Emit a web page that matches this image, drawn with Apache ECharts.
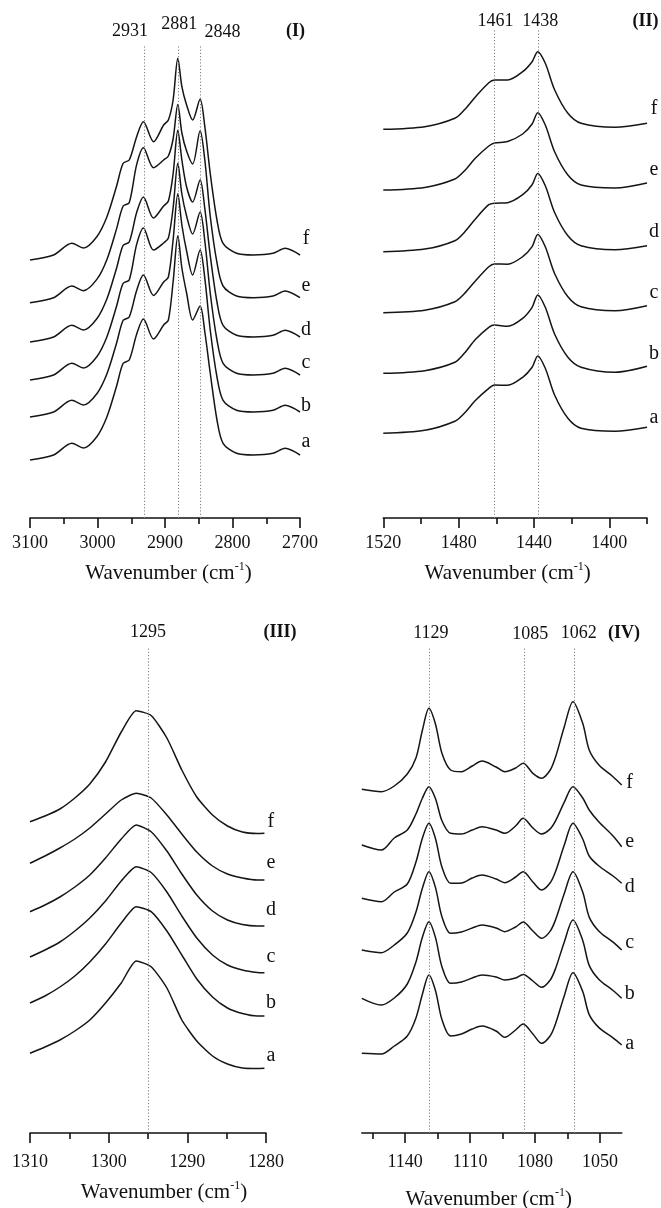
<!DOCTYPE html>
<html><head><meta charset="utf-8">
<script src="https://cdn.jsdelivr.net/npm/echarts@6/dist/echarts.min.js"></script>
<style>html,body{margin:0;padding:0;background:#fff}#c{width:661px;height:1208px}</style>
</head><body><div id="c"></div>
<script>
// ---------- Panel I : 3100-2700 cm-1 ----------
const wnI = [3100, 3065, 3038, 3021, 3001, 2986, 2972, 2962, 2953, 2942, 2932, 2917, 2902, 2895, 2888, 2881, 2875, 2868, 2859, 2848, 2841, 2833, 2823, 2814, 2794, 2769, 2740, 2722, 2700];
const I_a = [58, 63, 74.7, 70, 81.3, 101.3, 131.3, 154.7, 158, 183.8, 199, 179, 193, 198, 236, 282.3, 250, 225, 198, 212, 186, 145, 98, 74.7, 64.7, 63, 64.7, 69.7, 63];
const I_b = [101, 106, 117.7, 113, 124.3, 144.3, 174.3, 197.7, 201, 227.6, 243, 222.5, 236, 241, 278, 324.3, 293, 267, 243, 268, 239.6, 188, 141, 117.7, 107.7, 106, 107.7, 112.7, 106];
const I_c = [138, 143, 154.7, 150, 161.3, 181.3, 211.3, 234.7, 238, 273.6, 290, 268, 275, 280, 310, 354.7, 324, 302, 284, 306, 277, 225, 178, 154.7, 144.7, 143, 144.7, 149.7, 143];
const I_d = [176, 181, 192.7, 188, 199.3, 219.3, 249.3, 272.7, 276, 305.5, 321, 300, 312, 317, 344, 387.7, 358, 331, 316, 338, 309.3, 262.7, 216, 192.7, 182.7, 181, 182.7, 187.7, 181];
const I_e = [215.3, 220.3, 232, 227.3, 238.6, 258.6, 288.6, 312, 315.3, 353.4, 370.3, 350.3, 358, 362, 379, 413.6, 385, 367, 354, 387.3, 358, 302, 255.3, 232, 222, 220.3, 222, 227, 220.3];
const I_f = [258, 263, 274.7, 270, 281.3, 301.3, 331.3, 354.7, 358, 381.3, 396.3, 376.3, 393, 398, 418, 459.7, 431.3, 413, 398, 418.7, 391.3, 344.7, 298, 274.7, 264.7, 263, 264.7, 269.7, 263];
const peaksI = [2931, 2881, 2848];
const ticksI = [3100, 3000, 2900, 2800, 2700];
const minorI = [3050, 2950, 2850, 2750];

// ---------- Panel II : 1520-1380 cm-1 ----------
const wnII = [1520, 1498, 1482, 1477, 1471, 1464, 1461, 1454, 1446, 1441, 1438, 1434, 1429, 1422, 1415, 1397, 1380];
const II_a = [84.7, 87.7, 96.7, 104.7, 117.7, 129.7, 133, 132.7, 140.7, 150.7, 162, 149.7, 122.7, 99.7, 89.7, 86.7, 90.7];
const II_b = [144.7, 147.3, 155.7, 164.7, 178.7, 190.7, 193, 191.7, 199.7, 210.7, 223, 210.7, 183.7, 160.7, 150.7, 145.7, 151.7];
const II_c = [205.3, 207.8, 216.3, 224.3, 237.3, 251.3, 254, 253.8, 261.3, 271.3, 283.6, 271.3, 244.3, 221.3, 211.3, 207.3, 212.3];
const II_d = [266.3, 268.9, 277.3, 285.6, 299.3, 313.3, 314.8, 315.3, 323.3, 333.3, 344.6, 332.3, 305.3, 282.3, 272.3, 268.3, 272.3];
const II_e = [328, 330.6, 339, 347, 360, 372, 375, 376.5, 384, 394, 405.3, 393, 366, 343, 333, 330, 335];
const II_f = [388.7, 391.3, 399.7, 408, 421.3, 435.3, 438, 438, 446.3, 456.3, 466.3, 454.7, 428, 404.7, 394.7, 390.7, 394.7];
const peaksII = [1461, 1438];
const ticksII = [1520, 1480, 1440, 1400];
const minorII = [1500, 1460, 1420, 1380];

// ---------- Panel III : 1310-1280 cm-1 ----------
const wnIII = [1310, 1308.1, 1306.2, 1304.3, 1302.4, 1300.4, 1298.4, 1296.5, 1294.6, 1292.6, 1290.7, 1288.8, 1286.8, 1284.9, 1283.0, 1281.1, 1280.2];
const III_a = [79.7, 86, 93, 102, 113, 130, 150, 172, 166.3, 145, 113, 92, 77, 69, 65, 64.5, 64.7];
const III_b = [130, 137, 146, 157, 171, 189, 210, 226.3, 221.3, 202, 178, 154, 136, 125, 119.5, 117, 117];
const III_c = [176, 183, 191, 202, 215, 232, 252, 266.3, 260.5, 241, 217, 195, 178, 168, 163, 160.5, 160.3];
const III_d = [221.3, 228, 236, 246, 258, 275, 294, 308, 301.3, 282, 259, 238, 222, 213, 208.5, 207, 207];
const III_e = [269.7, 277, 285, 294, 305, 319, 333, 339.7, 335, 318, 299, 281, 267, 259, 255, 253, 253];
const III_f = [311.3, 317, 324, 335, 349, 371, 401, 422.3, 417.5, 395, 363, 336, 318, 307, 301, 299.5, 299.7];
const peaksIII = [1295];
const ticksIII = [1310, 1300, 1290, 1280];
const minorIII = [1305, 1295, 1285];

// ---------- Panel IV : 1160-1040 cm-1 ----------
const wnIV = [1160, 1151, 1145, 1139, 1135, 1132, 1129, 1126, 1123, 1119, 1114, 1109, 1104.5, 1098, 1094, 1089, 1085.5, 1081, 1077, 1073, 1070.5, 1066.5, 1062.5, 1058, 1055, 1050.5, 1044, 1040];
const IV_a = [79.7, 79, 87, 97, 115, 139, 158, 142.5, 113.5, 97, 99, 104, 107, 102, 95.7, 103, 109, 99, 89.7, 97.3, 109.6, 137.3, 160.3, 141.5, 118.4, 105.4, 95.2, 88];
const IV_b = [134.7, 128, 135, 149, 171, 196, 211.3, 195.6, 166.3, 149.7, 151, 155, 158, 156, 153, 155, 158.5, 152, 145.7, 153, 164.7, 191.1, 213, 192.6, 167.6, 153.5, 142.5, 134.7];
const IV_c = [183, 180.3, 188, 200, 221, 245, 261.3, 245.6, 216.3, 199.7, 201, 205, 208, 205, 201.3, 206, 211, 202, 194.7, 201.9, 213.5, 239.6, 261.3, 240.9, 215.9, 201.8, 190.8, 183];
const IV_d = [234.7, 231.3, 241, 249, 271, 295, 309.7, 294.5, 265.9, 249.7, 250, 255, 258, 254, 250.3, 256, 261.3, 251, 243, 250.2, 261.8, 288, 309.7, 294, 277, 267, 257, 249.7];
const IV_e = [288, 283, 295, 303, 319, 335, 346.3, 334.5, 312.3, 299.7, 299, 303, 306.3, 303, 299.7, 307, 314.7, 305, 299, 304.1, 312.3, 330.9, 346.3, 335, 323, 311, 297, 286.3];
const IV_f = [343.7, 341.3, 347, 359, 375, 403, 424.7, 409, 379.7, 363, 361.3, 367, 372, 366, 361.3, 365, 369.7, 359.7, 354.7, 363, 376.3, 406.3, 431.3, 409.7, 383, 368, 356.3, 348];
const peaksIV = [1129, 1085, 1062];
const ticksIV = [1140, 1110, 1080, 1050];
const minorIV = [1155, 1125, 1095, 1065];

const sampleNames = ['a', 'b', 'c', 'd', 'e', 'f'];
const panelTitles = ['(I)', '(II)', '(III)', '(IV)'];

// ---------- layout / style ----------
const FONT = '"Liberation Serif", "Times New Roman", serif';
const INK = '#111';
const panels = [
  { wn: wnI, ys: [I_a, I_b, I_c, I_d, I_e, I_f], min: 2700, max: 3100, ticks: ticksI, minor: minorI, peaks: peaksI,
    grid: { left: 30, top: 45, width: 270, height: 473 }, smooth: 0.3, nameGap: 43, labelMargin: 16, nameShift: 3.5,
    peakDx: [-14, 1.5, 22.5], peakDy: [-14, -21, -13], letterDx: 6, letterDy: [-13, -6, -12, -7, -12, -16], title: [295.5, 31] },
  { wn: wnII, ys: [II_a, II_b, II_c, II_d, II_e, II_f], min: 1380, max: 1520, ticks: ticksII, minor: minorII, peaks: peaksII,
    grid: { left: 383.3, top: 30, width: 263.7, height: 488 }, smooth: 0.3, nameGap: 43, labelMargin: 16, nameShift: -7.5,
    peakDx: [1, 2.5], peakDy: [-9, -9], letterDx: 7, letterDy: [-10, -13, -13, -14, -13, -15], title: [645.5, 21] },
  { wn: wnIII, ys: [III_a, III_b, III_c, III_d, III_e, III_f], min: 1280, max: 1310, ticks: ticksIII, minor: minorIII, peaks: peaksIII,
    grid: { left: 30, top: 647, width: 236, height: 486 }, smooth: 0.2, nameGap: 47, labelMargin: 20, nameShift: 16,
    peakDx: [0], peakDy: [-15], letterDx: 6.5, letterDy: [-13, -13, -16, -16, -17, -12], title: [280, 632] },
  { wn: wnIV, ys: [IV_a, IV_b, IV_c, IV_d, IV_e, IV_f], min: 1040, max: 1160, ticks: ticksIV, minor: minorIV, peaks: peaksIV,
    grid: { left: 361.8, top: 647, width: 259.9, height: 486 }, smooth: 0.3, nameGap: 54, labelMargin: 20, nameShift: -3,
    peakDx: [2, 6, 4.6], peakDy: [-14, -13, -14], letterDx: 8, letterDy: [-1, -5, -7, 3, -5, -2], title: [624, 633] }
];

const grids = [], xAxes = [], yAxes = [], series = [];
panels.forEach((p, i) => {
  grids.push(Object.assign({ outerBoundsMode: 'none', containLabel: false }, p.grid));
  const sh = p.nameShift;
  xAxes.push({
    type: 'value', gridIndex: i, position: 'bottom', inverse: true, min: p.min, max: p.max,
    splitLine: { show: false },
    axisLine: { show: true, onZero: false, lineStyle: { color: INK, width: 1.6 } },
    axisTick: { show: true, inside: false, length: 10, customValues: p.ticks, lineStyle: { color: INK, width: 1.6 } },
    axisLabel: { show: true, customValues: p.ticks, margin: p.labelMargin, color: INK, fontFamily: FONT, fontSize: 18,
                 showMinLabel: true, showMaxLabel: true, formatter: v => String(v) },
    name: '{t|Wavenumber (cm}{s|-1}{t|)}', nameLocation: 'middle', nameGap: p.nameGap, nameMoveOverlap: false,
    nameTextStyle: {
      padding: sh >= 0 ? [0, 0, 0, 2 * sh] : [0, -2 * sh, 0, 0],
      rich: {
        t: { fontFamily: FONT, fontSize: 21, lineHeight: 25, color: INK },
        s: { fontFamily: FONT, fontSize: 12, lineHeight: 12, verticalAlign: 'top', color: INK }
      }
    }
  });
  xAxes.push({
    type: 'value', gridIndex: i, position: 'bottom', inverse: true, min: p.min, max: p.max,
    splitLine: { show: false }, axisLine: { show: false, onZero: false },
    axisTick: { show: true, inside: false, length: 6, customValues: p.minor, lineStyle: { color: INK, width: 1.6 } },
    axisLabel: { show: false }
  });
  yAxes.push({ type: 'value', gridIndex: i, min: 0, max: p.grid.height, show: false, splitLine: { show: false } });
  p.ys.forEach((ys, k) => {
    const s = {
      type: 'line', name: sampleNames[k], xAxisIndex: 2 * i, yAxisIndex: i,
      data: p.wn.map((w, j) => [w, ys[j]]),
      showSymbol: false, symbol: 'none', smooth: p.smooth, silent: true,
      lineStyle: { color: '#151515', width: 1.5 }
    };
    if (k === 0) {
      s.markLine = {
        silent: true, symbol: ['none', 'none'], label: { show: false },
        lineStyle: { type: [1.2, 2], color: '#808080', width: 1 },
        data: p.peaks.map(v => ({ xAxis: v }))
      };
    }
    series.push(s);
  });
});

const chart = echarts.init(document.getElementById('c'));
chart.setOption({
  animation: false, backgroundColor: '#fff',
  grid: grids, xAxis: xAxes, yAxis: yAxes, series: series
});

// text annotations positioned through the axes' own scales
const g = [];
panels.forEach((p, i) => {
  const finder = { xAxisIndex: 2 * i, yAxisIndex: i };
  p.peaks.forEach((v, k) => {
    const pt = chart.convertToPixel(finder, [v, p.grid.height]);
    g.push({ type: 'text', x: pt[0] + p.peakDx[k], y: pt[1] + p.peakDy[k], silent: true,
      style: { text: String(v), fontFamily: FONT, fontSize: 18, fill: INK, align: 'center', verticalAlign: 'middle' } });
  });
  p.ys.forEach((ys, k) => {
    const last = p.wn.length - 1;
    const pt = chart.convertToPixel(finder, [p.wn[last], ys[last]]);
    g.push({ type: 'text', x: pt[0] + p.letterDx, y: pt[1] + p.letterDy[k], silent: true,
      style: { text: sampleNames[k], fontFamily: FONT, fontSize: 20, fill: INK, align: 'center', verticalAlign: 'middle' } });
  });
  g.push({ type: 'text', x: p.title[0], y: p.title[1], silent: true,
    style: { text: panelTitles[i], fontFamily: FONT, fontSize: 18, fontWeight: 'bold', fill: INK, align: 'center', verticalAlign: 'middle' } });
});
chart.setOption({ graphic: g });
</script>
</body></html>
